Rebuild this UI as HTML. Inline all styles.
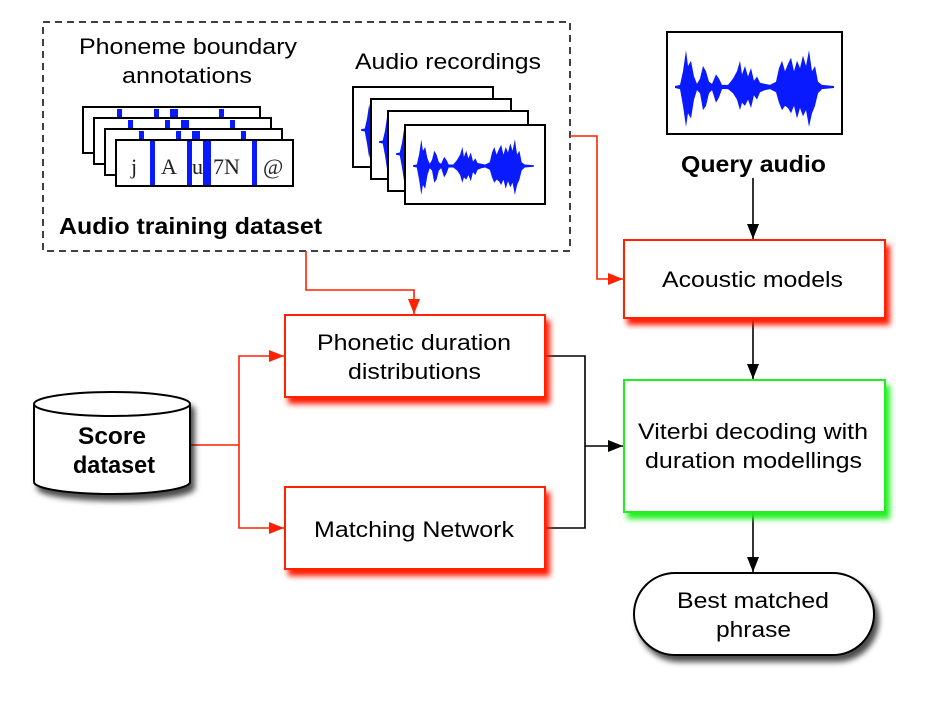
<!DOCTYPE html>
<html><head><meta charset="utf-8"><style>
html,body{margin:0;padding:0;background:#fff}
svg{display:block;font-family:"Liberation Sans",sans-serif}
</style></head><body>
<svg width="929" height="704" viewBox="0 0 929 704" xmlns="http://www.w3.org/2000/svg">
<defs>
<filter id="shR" x="-10%" y="-10%" width="130%" height="140%"><feGaussianBlur in="SourceAlpha" stdDeviation="3" result="b"/><feOffset in="b" dx="4" dy="6" result="o"/><feFlood flood-color="#ff1a00"/><feComposite in2="o" operator="in" result="c"/><feMerge><feMergeNode in="c"/><feMergeNode in="SourceGraphic"/></feMerge></filter>
<filter id="shG" x="-10%" y="-10%" width="130%" height="140%"><feGaussianBlur in="SourceAlpha" stdDeviation="3" result="b"/><feOffset in="b" dx="4" dy="6" result="o"/><feFlood flood-color="#22ee22"/><feComposite in2="o" operator="in" result="c"/><feMerge><feMergeNode in="c"/><feMergeNode in="SourceGraphic"/></feMerge></filter>
<filter id="shK" x="-10%" y="-10%" width="130%" height="140%"><feGaussianBlur in="SourceAlpha" stdDeviation="3" result="b"/><feOffset in="b" dx="4" dy="6" result="o"/><feFlood flood-color="#000" flood-opacity="0.7"/><feComposite in2="o" operator="in" result="c"/><feMerge><feMergeNode in="c"/><feMergeNode in="SourceGraphic"/></feMerge></filter>
<path id="w" fill="#0a1aff" d="M0,-1 5,-2 8,-15 11,-35 13,-20 16,-25 19,-10 22,-3 25,-8 28,-20 31,-15 34,-5 37,-3 41,-12 44,-8 47,-2 53,-2 58,-8 62,-15 65,-25 67,-12 70,-20 73,-10 76,-18 79,-6 82,-10 85,-4 90,-3 95,-2 101,-5 104,-18 107,-25 110,-15 113,-22 116,-28 119,-15 122,-25 125,-18 128,-30 131,-20 134,-35 137,-15 140,-20 143,-5 147,-2 159,-1 159,1 147,2 143,6 140,18 137,25 134,38 131,22 128,28 125,20 122,30 119,18 116,25 113,20 110,18 107,22 104,15 101,5 95,2 90,3 85,5 82,12 79,8 76,20 73,12 70,18 67,15 65,22 62,12 58,6 53,2 47,2 44,10 41,15 37,3 34,6 31,18 28,22 25,6 22,3 19,12 16,30 13,25 11,38 8,18 5,2 0,1Z"/>
<marker id="ar" markerWidth="15" markerHeight="12" refX="15" refY="6" orient="auto" markerUnits="userSpaceOnUse"><path d="M0,0 15,6 0,12Z" fill="#ff2200"/></marker>
<marker id="ak" markerWidth="15" markerHeight="12" refX="15" refY="6" orient="auto" markerUnits="userSpaceOnUse"><path d="M0,0 15,6 0,12Z" fill="#000"/></marker>
</defs>

<rect x="43" y="22" width="527" height="229" fill="none" stroke="#000" stroke-width="1.5" stroke-dasharray="7,5"/>
<text x="79" y="54" font-size="22" textLength="218" lengthAdjust="spacingAndGlyphs">Phoneme boundary</text>
<text x="122" y="83" font-size="22" textLength="130" lengthAdjust="spacingAndGlyphs">annotations</text>
<text x="355" y="69" font-size="22" textLength="186" lengthAdjust="spacingAndGlyphs">Audio recordings</text>
<text x="59" y="234" font-size="23" font-weight="bold" textLength="263" lengthAdjust="spacingAndGlyphs">Audio training dataset</text>

<g stroke-width="2">
<g><rect x="83" y="107" width="177" height="46" fill="#fff" stroke="#000"/><g fill="#0a1aff"><rect x="117" y="109" width="5" height="40"/><rect x="154" y="109" width="5" height="40"/><rect x="170" y="109" width="8" height="40"/><rect x="219" y="109" width="5" height="40"/></g></g>
<g><rect x="94" y="118" width="177" height="46" fill="#fff" stroke="#000"/><g fill="#0a1aff"><rect x="128" y="120" width="5" height="40"/><rect x="165" y="120" width="5" height="40"/><rect x="181" y="120" width="8" height="40"/><rect x="230" y="120" width="5" height="40"/></g></g>
<g><rect x="105" y="129" width="177" height="46" fill="#fff" stroke="#000"/><g fill="#0a1aff"><rect x="139" y="131" width="5" height="40"/><rect x="176" y="131" width="5" height="40"/><rect x="192" y="131" width="8" height="40"/><rect x="241" y="131" width="5" height="40"/></g></g>
<g><rect x="116" y="140" width="177" height="46" fill="#fff" stroke="#000"/><g fill="#0a1aff"><rect x="150" y="141" width="5" height="44"/><rect x="187" y="141" width="5" height="44"/><rect x="203" y="141" width="8" height="44"/><rect x="252" y="141" width="5" height="44"/></g></g>
</g>
<g font-family="Liberation Serif,serif" font-size="22" fill="#222">
<text x="131" y="174">j</text><text x="161" y="174">A</text><text x="192" y="174">u</text><text x="213" y="174">7N</text><text x="263" y="174">@</text>
</g>

<g stroke="#000" stroke-width="2" fill="#fff">
<rect x="353" y="87" width="140" height="80"/>
<use href="#w" transform="translate(361,130) scale(0.75)" stroke="none"/>
<rect x="371" y="99" width="140" height="80"/>
<use href="#w" transform="translate(379,142) scale(0.75)" stroke="none"/>
<rect x="388" y="111" width="140" height="80"/>
<use href="#w" transform="translate(396,154) scale(0.75)" stroke="none"/>
<rect x="405" y="125" width="140" height="79"/>
<use href="#w" transform="translate(413,166) scale(0.76)" stroke="none"/>
</g>

<rect x="667" y="32" width="175" height="102" fill="#fff" stroke="#000" stroke-width="2"/>
<use href="#w" transform="translate(675,87) scale(1,1.05)"/>
<text x="681" y="172" font-size="23" font-weight="bold" textLength="145" lengthAdjust="spacingAndGlyphs">Query audio</text>

<g fill="none" stroke-width="1.6">
<path d="M570,136 H597 V279 H623" stroke="#ff2200" marker-end="url(#ar)"/>
<path d="M306,251 V290 H414 V314" stroke="#ff2200" marker-end="url(#ar)"/>
<path d="M190,445 H239 V356 H284" stroke="#ff2200" marker-end="url(#ar)"/>
<path d="M239,445 V528 H284" stroke="#ff2200" marker-end="url(#ar)"/>
<path d="M545,356 H585 V528 H545" stroke="#000"/>
<path d="M585,446 H623" stroke="#000" marker-end="url(#ak)"/>
<path d="M753,178 V239" stroke="#000" marker-end="url(#ak)"/>
<path d="M753,318 V379" stroke="#000" marker-end="url(#ak)"/>
<path d="M753,512 V572" stroke="#000" marker-end="url(#ak)"/>
</g>

<rect x="624" y="240" width="261" height="78" fill="#fff" stroke="#ff2200" stroke-width="2" filter="url(#shR)"/>
<text x="662" y="287" font-size="22" textLength="181" lengthAdjust="spacingAndGlyphs">Acoustic models</text>

<rect x="285" y="315" width="260" height="82" fill="#fff" stroke="#ff2200" stroke-width="2" filter="url(#shR)"/>
<text x="317" y="350" font-size="22" textLength="194" lengthAdjust="spacingAndGlyphs">Phonetic duration</text>
<text x="348" y="379" font-size="22" textLength="133" lengthAdjust="spacingAndGlyphs">distributions</text>

<rect x="285" y="487" width="260" height="82" fill="#fff" stroke="#ff2200" stroke-width="2" filter="url(#shR)"/>
<text x="314" y="537" font-size="22" textLength="200" lengthAdjust="spacingAndGlyphs">Matching Network</text>

<rect x="624" y="380" width="261" height="132" fill="#fff" stroke="#22ee22" stroke-width="2" filter="url(#shG)"/>
<text x="638" y="439" font-size="22" textLength="230" lengthAdjust="spacingAndGlyphs">Viterbi decoding with</text>
<text x="645" y="468" font-size="22" textLength="217" lengthAdjust="spacingAndGlyphs">duration modellings</text>

<rect x="634" y="573" width="240" height="82" rx="41" ry="41" fill="#fff" stroke="#000" stroke-width="2" filter="url(#shK)"/>
<text x="677" y="608" font-size="22" textLength="152" lengthAdjust="spacingAndGlyphs">Best matched</text>
<text x="716" y="637" font-size="22" textLength="75" lengthAdjust="spacingAndGlyphs">phrase</text>

<g filter="url(#shK)">
<path d="M34,404 V482 A78,12 0 0 0 190,482 V404 A78,12 0 0 0 34,404 Z" fill="#fff" stroke="#000" stroke-width="2"/>
</g>
<path d="M34,404 A78,12 0 0 0 190,404" fill="none" stroke="#000" stroke-width="2"/>
<text x="78" y="444" font-size="24" font-weight="bold" textLength="68" lengthAdjust="spacingAndGlyphs">Score</text>
<text x="73" y="473" font-size="24" font-weight="bold" textLength="82" lengthAdjust="spacingAndGlyphs">dataset</text>
</svg>
</body></html>
